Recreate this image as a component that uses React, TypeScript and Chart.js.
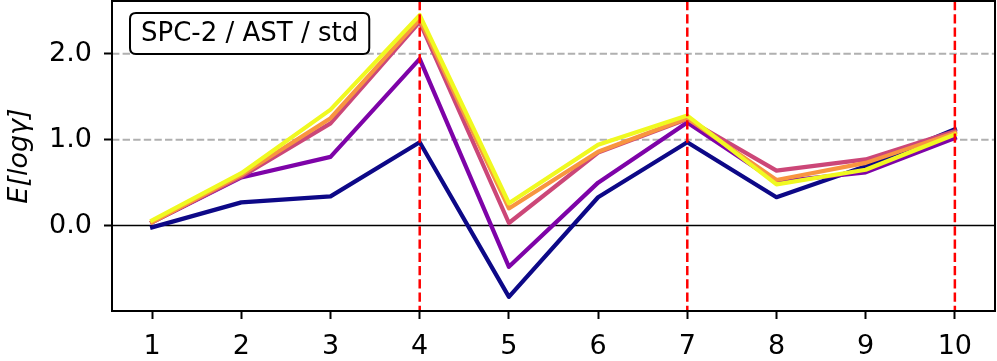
import React, { useEffect, useRef } from "react";
import { Chart, registerables } from "chart.js";

Chart.register(...registerables);

const xValues = [1, 2, 3, 4, 5, 6, 7, 8, 9, 10];
const seriesNavy = [-0.02, 0.27, 0.34, 0.97, -0.83, 0.33, 0.97, 0.33, 0.69, 1.12];
const seriesPurple = [0.04, 0.56, 0.8, 1.94, -0.48, 0.5, 1.2, 0.51, 0.62, 1.02];
const seriesPink = [0.04, 0.57, 1.19, 2.37, 0.03, 0.85, 1.24, 0.64, 0.77, 1.1];
const seriesOrange = [0.04, 0.59, 1.25, 2.4, 0.2, 0.86, 1.25, 0.53, 0.73, 1.08];
const seriesYellow = [0.06, 0.61, 1.35, 2.45, 0.26, 0.94, 1.28, 0.48, 0.65, 1.06];
const seriesColors = ["#0d0887", "#7e03a8", "#cc4778", "#f89540", "#f0f921"];
const yTicks = [0, 1, 2];
const gridLevels = [1, 2];
const markerX = [4, 7, 10];
const boxLabel = "SPC-2 / AST / std";
const yLabel = "E[logγ]";

const FONT = "'DejaVu Sans', 'Liberation Sans', sans-serif";

const overlayPlugin = {
  id: "overlay",
  beforeDatasetsDraw(chart: any) {
    const { ctx, chartArea, scales } = chart;
    const y = scales.y;
    ctx.save();
    ctx.beginPath();
    ctx.rect(chartArea.left, chartArea.top, chartArea.right - chartArea.left, chartArea.bottom - chartArea.top);
    ctx.clip();
    ctx.lineWidth = 2;
    ctx.strokeStyle = "#b0b0b0";
    ctx.setLineDash([7.4, 3.2]);
    for (const g of gridLevels) {
      const py = y.getPixelForValue(g);
      ctx.beginPath();
      ctx.moveTo(chartArea.left, py);
      ctx.lineTo(chartArea.right, py);
      ctx.stroke();
    }
    ctx.setLineDash([]);
    ctx.strokeStyle = "#000";
    ctx.lineWidth = 1.5;
    const p0 = y.getPixelForValue(0);
    ctx.beginPath();
    ctx.moveTo(chartArea.left, p0);
    ctx.lineTo(chartArea.right, p0);
    ctx.stroke();
    ctx.restore();
  },
  afterDatasetsDraw(chart: any) {
    const { ctx, chartArea, scales } = chart;
    const x = scales.x;
    ctx.save();
    ctx.strokeStyle = "#ff0000";
    ctx.lineWidth = 2.5;
    ctx.setLineDash([9.25, 4]);
    for (const m of markerX) {
      const px = x.getPixelForValue(m);
      ctx.beginPath();
      ctx.moveTo(px, chartArea.top);
      ctx.lineTo(px, chartArea.bottom);
      ctx.stroke();
    }
    ctx.setLineDash([]);
    ctx.strokeStyle = "#000";
    ctx.lineWidth = 2;
    ctx.strokeRect(chartArea.left, chartArea.top, chartArea.right - chartArea.left, chartArea.bottom - chartArea.top);

    // annotation box
    ctx.font = `26px ${FONT}`;
    const tw = ctx.measureText(boxLabel).width;
    const bx = chartArea.left + 18;
    const by = chartArea.top + 12;
    const bw = tw + 22;
    const bh = 41;
    const r = 6;
    ctx.beginPath();
    ctx.moveTo(bx + r, by);
    ctx.lineTo(bx + bw - r, by);
    ctx.quadraticCurveTo(bx + bw, by, bx + bw, by + r);
    ctx.lineTo(bx + bw, by + bh - r);
    ctx.quadraticCurveTo(bx + bw, by + bh, bx + bw - r, by + bh);
    ctx.lineTo(bx + r, by + bh);
    ctx.quadraticCurveTo(bx, by + bh, bx, by + bh - r);
    ctx.lineTo(bx, by + r);
    ctx.quadraticCurveTo(bx, by, bx + r, by);
    ctx.closePath();
    ctx.fillStyle = "#fff";
    ctx.fill();
    ctx.lineWidth = 2;
    ctx.strokeStyle = "#000";
    ctx.stroke();
    ctx.fillStyle = "#000";
    ctx.textAlign = "center";
    ctx.textBaseline = "middle";
    ctx.fillText(boxLabel, bx + bw / 2, by + bh / 2 + 1);
    ctx.restore();
  },
};

export default function App() {
  const canvasRef = useRef<HTMLCanvasElement | null>(null);

  useEffect(() => {
    if (!canvasRef.current) return;
    const seriesList = [seriesNavy, seriesPurple, seriesPink, seriesOrange, seriesYellow];
    const chart = new Chart(canvasRef.current, {
      type: "line",
      data: {
        datasets: seriesList.map((s, i) => ({
          data: xValues.map((xv, j) => ({ x: xv, y: s[j] })),
          borderColor: seriesColors[i],
          backgroundColor: seriesColors[i],
          borderWidth: 4.2,
          pointRadius: 0,
          tension: 0,
          fill: false,
          borderJoinStyle: "round" as const,
          borderCapStyle: "square" as const,
          order: seriesList.length - 1 - i,
        })),
      },
      options: {
        animation: false,
        responsive: false,
        maintainAspectRatio: false,
        events: [],
        layout: { padding: { top: 1, right: 2, left: 0, bottom: 0 } },
        plugins: {
          legend: { display: false },
          tooltip: { enabled: false },
        },
        scales: {
          x: {
            type: "linear",
            min: 0.55,
            max: 10.45,
            afterBuildTicks: (scale: any) => {
              scale.ticks = xValues.map((v) => ({ value: v }));
            },
            afterFit: (scale: any) => {
              scale.height = 50;
              scale.paddingLeft = 0;
              scale.paddingRight = 0;
            },
            grid: {
              drawOnChartArea: false,
              drawTicks: true,
              tickLength: 8,
              tickWidth: 2,
              tickColor: "#000",
            },
            border: { display: false },
            ticks: {
              color: "#000",
              padding: 12,
              font: { family: FONT, size: 27 },
              maxRotation: 0,
              autoSkip: false,
              callback: (v: any) => String(v),
            },
          },
          y: {
            type: "linear",
            min: -0.994,
            max: 2.614,
            afterBuildTicks: (scale: any) => {
              scale.ticks = yTicks.map((v) => ({ value: v }));
            },
            afterFit: (scale: any) => {
              scale.width = 112;
              scale.paddingTop = 0;
              scale.paddingBottom = 0;
            },
            grid: {
              drawOnChartArea: false,
              drawTicks: true,
              tickLength: 8,
              tickWidth: 2,
              tickColor: "#000",
            },
            border: { display: false },
            ticks: {
              color: "#000",
              padding: 12,
              font: { family: FONT, size: 27 },
              autoSkip: false,
              callback: (v: any) => Number(v).toFixed(1),
            },
            title: {
              display: true,
              text: yLabel,
              color: "#000",
              font: { family: FONT, size: 27, style: "italic" },
              padding: { top: 4, bottom: 0 },
            },
          },
        },
      },
      plugins: [overlayPlugin],
    });
    return () => chart.destroy();
  }, []);

  return (
    <div style={{ position: "fixed", left: 0, top: 0, width: 997, height: 361, background: "#fff" }}>
      <canvas ref={canvasRef} width={997} height={361} style={{ display: "block", width: 997, height: 361 }} />
    </div>
  );
}
